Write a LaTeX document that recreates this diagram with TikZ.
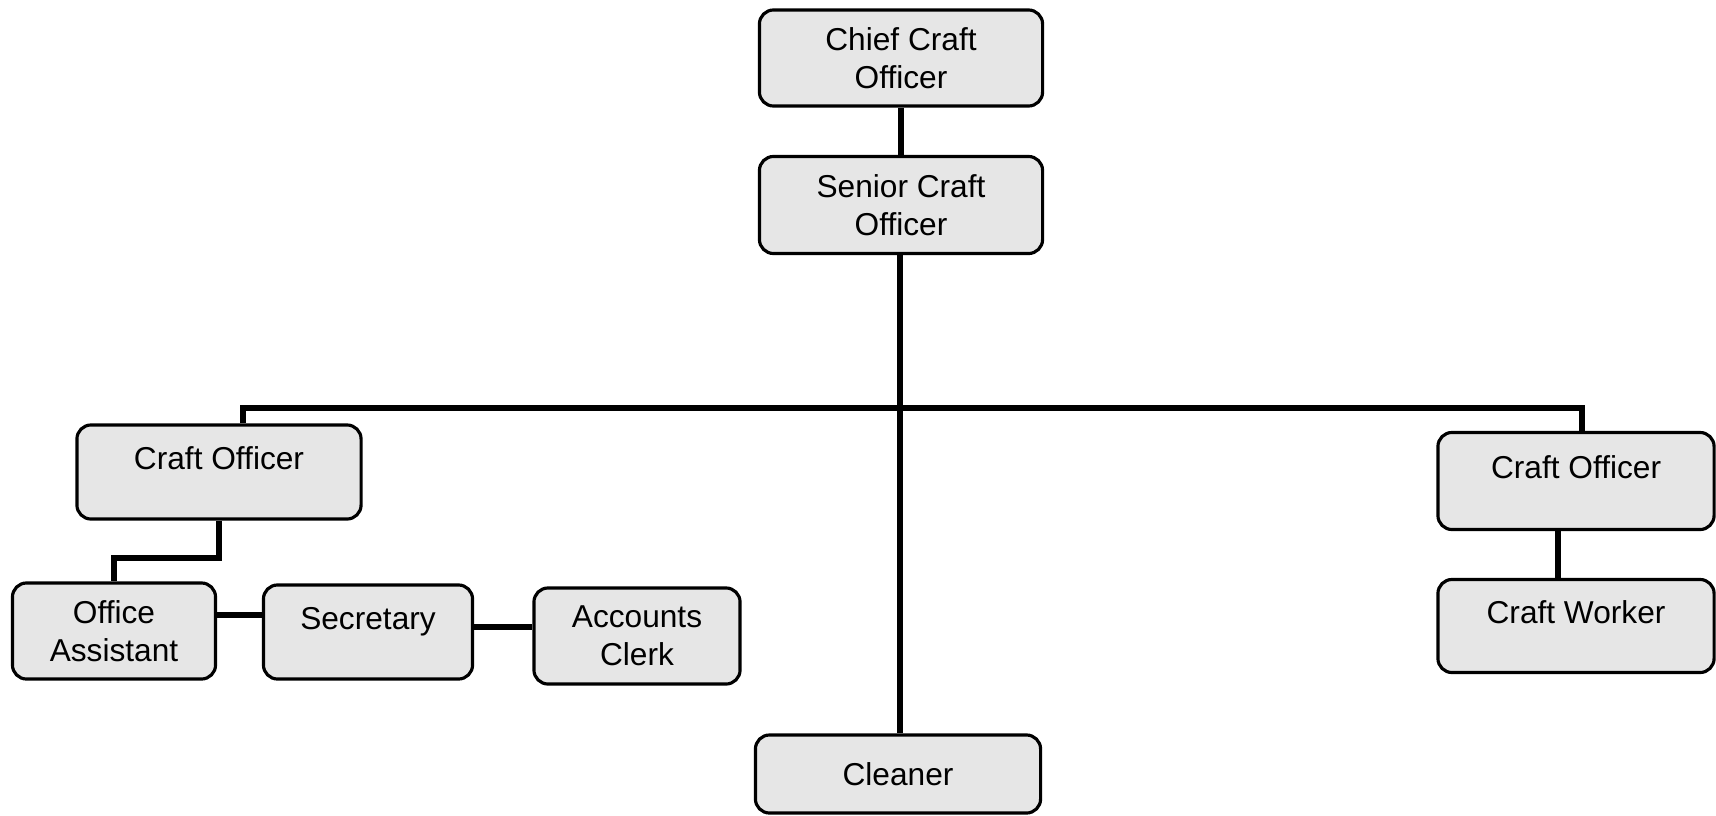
\documentclass[tikz,border=0pt]{standalone}
\usepackage{fontspec}
\setmainfont{Liberation Sans}
\usepackage{tikz}
\usetikzlibrary{positioning, calc}

\begin{document}
\begin{tikzpicture}[x=0.01cm, y=-0.01cm, every node/.style={font=\fontsize{9}{10.8}\selectfont}]
    % Define colors
    \definecolor{boxfill}{RGB}{230, 230, 230}

    \tikzset{
        post/.style={draw, line width=0.9pt, rounded corners=4pt, fill=boxfill, align=center, inner sep=0pt},
        oneline/.style={text height=7pt, text depth=8.4pt},
        link/.style={line width=1.5pt}
    }

    % Page frame
    \useasboundingbox (0, 0) rectangle (1716, 815);

    % Top of the chart
    \node[post, minimum width=2.83cm, minimum height=0.96cm] (chief) at (901, 58) {Chief Craft\\Officer};
    \node[post, minimum width=2.83cm, minimum height=0.97cm] (senior) at (901, 205) {Senior Craft\\Officer};

    % Craft officers
    \node[post, oneline, minimum width=2.84cm, minimum height=0.94cm] (coleft) at (219, 472) {Craft Officer};
    \node[post, oneline, minimum width=2.76cm, minimum height=0.97cm] (coright) at (1576, 481) {Craft Officer};

    % Left branch staff
    \node[post, minimum width=2.03cm, minimum height=0.96cm] (assistant) at (114, 631) {Office\\Assistant};
    \node[post, oneline, minimum width=2.09cm, minimum height=0.94cm] (secretary) at (368, 632) {Secretary};
    \node[post, minimum width=2.06cm, minimum height=0.96cm] (clerk) at (637, 636) {Accounts\\Clerk};

    % Right branch staff
    \node[post, oneline, minimum width=2.76cm, minimum height=0.93cm] (worker) at (1576, 626) {Craft Worker};

    % Bottom
    \node[post, minimum width=2.85cm, minimum height=0.78cm] (cleaner) at (898, 774) {Cleaner};

    % Junction points
    \coordinate (hub) at (900, 408);
    \coordinate (busleft) at (243, 408);
    \coordinate (busright) at (1582, 408);
    \coordinate (bendL) at (219, 558);
    \coordinate (bendA) at (114, 558);

    % Main spine
    \draw[link] (chief) -- (senior);
    \draw[link] (hub |- senior.south) -- (hub) -- (hub |- cleaner.north);

    % Horizontal bus
    \draw[link] (busleft |- coleft.north) -- (busleft) -- (hub) -- (busright) -- (busright |- coright.north);

    % Left branch
    \draw[link] (bendL |- coleft.south) -- (bendL) -- (bendA) -- (bendA |- assistant.north);
    \draw[link] (assistant.east |- 0, 615) -- (secretary.west |- 0, 615);
    \draw[link] (secretary.east |- 0, 627) -- (clerk.west |- 0, 627);

    % Right branch
    \draw[link] (1558, 0 |- coright.south) -- (1558, 0 |- worker.north);
\end{tikzpicture}
\end{document}
